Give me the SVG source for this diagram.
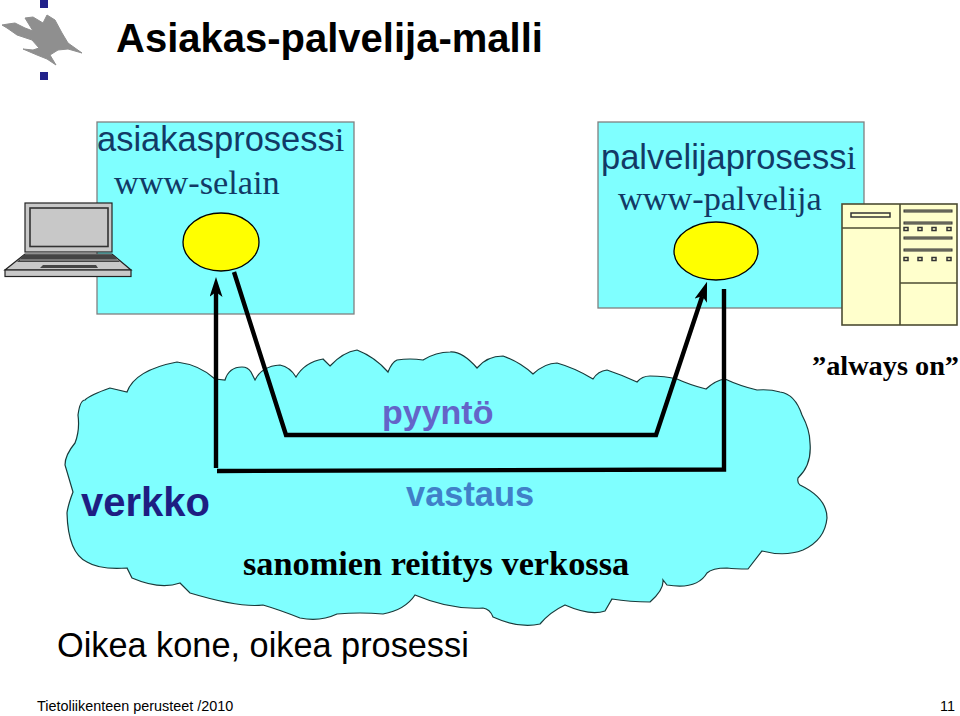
<svg xmlns="http://www.w3.org/2000/svg" width="960" height="716" viewBox="0 0 960 716">
<style>
.sans{font-family:"Liberation Sans",Arial,sans-serif}
.serif{font-family:"Liberation Serif","Times New Roman",serif}
.box{fill:#7fffff;stroke:#808080;stroke-width:1.3}
.proc{fill:#ffff00;stroke:#000;stroke-width:1.3}
.conn{fill:none;stroke:#000;stroke-width:4.400;stroke-linejoin:miter}
.srv{fill:#ffffcc;stroke:#4d4d33;stroke-width:1.600}
.bar{fill:#999980;stroke:#333;stroke-width:1}
.key{fill:#ffffcc;stroke:#333;stroke-width:1.500}
.lap{stroke:#222;stroke-width:1.200}
.sq{fill:#22228a}
.blue{fill:#123a66}
</style>
<defs>
<marker id="ah" markerUnits="userSpaceOnUse" markerWidth="20" markerHeight="13" refX="5" refY="6.500" orient="auto" viewBox="0 0 20 13"><path d="M0 0L20 6.500L0 13L5 6.500Z" fill="#000"/></marker>
</defs>
<rect width="960" height="716" fill="#fff"/>

<g id="logo">
<rect class="sq" x="40" y="0" width="8" height="8"/>
<rect class="sq" x="40" y="36" width="8" height="8"/>
<rect class="sq" x="40" y="72" width="8" height="8"/>
<path d="M2 25L8 24L15 23L25 28L33 31L25 18L33 17L43 23L47 15L55 20L62 33L68 43L82 53L68 49L58 50L50 55L56 65L47 59L37 55L23 49L33 50L39 48L32 40L17 35L7 28Z" fill="#8f8f8f" stroke="#8f8f8f" stroke-width="1" stroke-linejoin="round"/>
</g>

<g id="title"><text class="sans" x="116" y="52" font-size="40" font-weight="bold">Asiakas-palvelija-malli</text></g>

<g id="client-box">
<rect class="box" x="97" y="122" width="257" height="192"/>
<text class="blue" x="97" y="151" font-size="34.500"><tspan class="sans">asiakasprosess</tspan><tspan class="serif">i</tspan></text>
<text class="serif blue" x="114" y="194" font-size="34.300">www-selain</text>
</g>

<g id="server-box">
<rect class="box" x="598" y="122" width="266" height="186"/>
<text class="blue" x="601" y="169" font-size="34.500"><tspan class="sans">palvelijaprosess</tspan><tspan class="serif">i</tspan></text>
<text class="serif blue" x="618" y="210" font-size="34.300">www-palvelija</text>
</g>

<g id="laptop">
<rect class="lap" x="25" y="203" width="87" height="49" fill="#c8c8c8"/>
<rect x="30" y="208" width="78" height="38.500" fill="#c8c8c8" stroke="#333" stroke-width="1.600"/>
<path class="lap" d="M25 254H112L131 270H5Z" fill="#c8c8c8"/>
<path d="M24 254.500H112L120 262H17Z" fill="#444"/>
<path d="M20 260H118" stroke="#c8c8c8" stroke-width="0.800"/>
<path d="M43 265H96L98 268H40Z" fill="#444"/>
<rect class="lap" x="5" y="270" width="126" height="6.500" fill="#c8c8c8"/>
</g>

<g id="client-process"><ellipse class="proc" cx="221" cy="242" rx="38" ry="29"/></g>
<g id="server-process"><ellipse class="proc" cx="716" cy="251" rx="42" ry="29"/></g>

<g id="server">
<rect class="srv" x="842" y="204" width="115" height="121"/>
<path class="srv" d="M900 204V325M842 228H900M900 283H957" fill="none"/>
<rect class="key" x="851" y="213" width="39" height="4"/>
<rect class="bar" x="904" y="210" width="48" height="2"/>
<rect class="bar" x="904" y="222" width="48" height="2"/>
<rect class="bar" x="904" y="237" width="48" height="2"/>
<rect class="bar" x="904" y="249" width="48" height="2"/>
<g class="key">
<rect x="904" y="227.500" width="4" height="3"/><rect x="918" y="227.500" width="4" height="3"/><rect x="932" y="227.500" width="4" height="3"/><rect x="947" y="227.500" width="4" height="3"/>
<rect x="904" y="257.500" width="4" height="3"/><rect x="918" y="257.500" width="4" height="3"/><rect x="932" y="257.500" width="4" height="3"/><rect x="947" y="257.500" width="4" height="3"/>
</g>
</g>

<g id="cloud">
<path d="M215 379L225 380Q229 367 242 367Q248 367 251 372L255 380Q262 366 280 365Q290 367 296 377Q305 362 323 359L330 366Q343 352 357 350Q375 357 388 372Q392 362 397 360Q410 358 423 360Q436 352 450 352Q462 351 477 368Q487 356 503 356Q520 362 533 374Q545 363 557 363Q575 368 593 379Q598 371 607 370Q622 375 637 382Q642 376 650 376Q665 376 677 379Q690 385 706 389Q716 380 725 379Q740 386 757 390Q770 389 780 392Q795 394 802 415Q810 430 810 443Q812 465 798 478Q797 483 800 485Q827 498 827 518Q825 540 803 550Q785 557 762 551L748 569Q735 569 727 568Q712 568 707 573Q697 590 667 585L663 580Q664 590 650 602Q630 602 612 599L605 611Q590 616 565 605Q550 612 540 624Q520 629 493 617Q490 609 483 608Q450 610 415 595Q405 610 383 614Q360 612 337 614Q320 622 300 618Q280 610 263 605Q240 608 190 593L180 583Q160 590 132 578L127 568Q100 570 87 562Q68 553 67 513Q68 505 73 492L65 465Q65 455 75 443Q80 430 78 415Q80 400 85 400Q90 395 110 388L127 392Q135 370 177 362Q200 365 215 379Z" fill="#7fffff" stroke="#1a3a3a" stroke-width="1.200"/>
<text class="sans" x="81" y="516" font-size="40" font-weight="bold" fill="#1e1e82">verkko</text>
<text class="serif" x="243" y="575" font-size="34.300" font-weight="bold">sanomien reititys verkossa</text>
</g>

<g id="connectors">
<path class="conn" d="M216 468V292" marker-end="url(#ah)"/>
<path class="conn" d="M234 272L286 435H656L702.300 296" marker-end="url(#ah)"/>
<path class="conn" d="M217 471L724 469.500V289"/>
</g>

<g id="labels">
<text class="sans" x="382" y="424" font-size="34" font-weight="bold" fill="#6464c8">pyyntö</text>
<text class="sans" x="406" y="506" font-size="34.400" font-weight="bold" fill="#4080c8">vastaus</text>
<text class="serif" x="812" y="375" font-size="28.300" font-weight="bold">”always on”</text>
<text class="sans" x="57" y="657" font-size="34.300">Oikea kone, oikea prosessi</text>
<text class="sans" x="37" y="711" font-size="14.400">Tietoliikenteen perusteet /2010</text>
<text class="sans" x="940" y="711" font-size="14.400">11</text>
</g>
</svg>
